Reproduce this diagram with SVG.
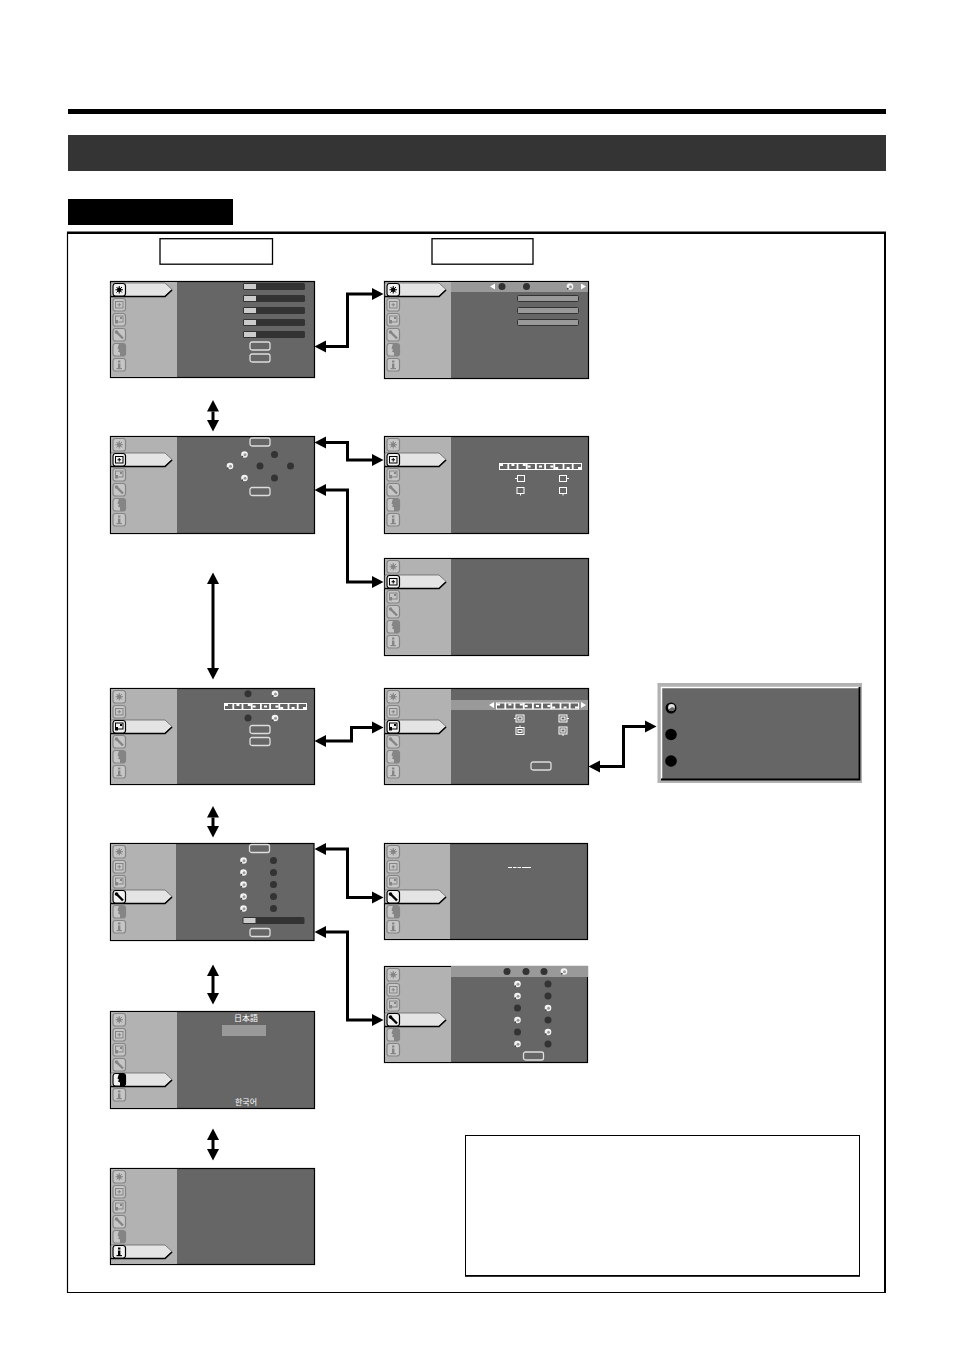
<svg xmlns="http://www.w3.org/2000/svg" width="954" height="1350" viewBox="0 0 954 1350">
<style>
.scr{fill:#666;stroke:#000;stroke-width:1.2}
.pan{fill:#b2b2b2}
.strip{fill:#999}
.btn{fill:none;stroke:#ddd;stroke-width:1.3}
.off{color:#858585;--b:#c6c6c6}
.on{color:#000;--b:#f2f2f2}
.box{fill:var(--b);stroke:currentColor;stroke-width:1.200}
.g{fill:currentColor}
.gl{fill:none;stroke:currentColor;stroke-width:1}
.tab{fill:#e4e4e4;stroke:#666;stroke-width:.8}
.tabb{fill:none;stroke:#000;stroke-width:1.6}
.conn{fill:none;stroke:#000;stroke-width:3;marker-start:url(#ah);marker-end:url(#ah)}
.sl0{fill:#333}
.sl1{fill:#ccc}
.bar{fill:#999;stroke:#333;stroke-width:1}
.w{fill:#fff}
.ol{fill:none;stroke:#fff;stroke-width:1}
.cell{fill:#666}
.cjk{fill:#fff;font-size:8px;text-anchor:middle}
</style>
<defs>
<marker id="ah" markerUnits="userSpaceOnUse" markerWidth="13" markerHeight="14" refX="0" refY="7" orient="auto-start-reverse" viewBox="0 0 13 14"><path d="M0,1 L11.500,7 L0,13 z" fill="#000"/></marker>
<g id="i0"><rect class="box" x="-6" y="-6" width="12.500" height="12.500" rx="2.500"/><circle class="g" cx=".25" cy=".25" r="2.200"/><path class="gl" d="M-3.500,.25H4M.25,-3.500V4M-2.500,-2.500L3,3M-2.500,3L3,-2.500"/></g>
<g id="i1"><rect class="box" x="-6" y="-6" width="12.500" height="12.500" rx="2.500"/><rect class="gl" x="-3.500" y="-3" width="7.500" height="6.500"/><path class="gl" d="M.25,-1.500V2M-1.500,.25H2"/></g>
<g id="i2"><rect class="box" x="-6" y="-6" width="12.500" height="12.500" rx="2.500"/><rect class="gl" x="-3.500" y="-3.500" width="7.500" height="6"/><path class="g" d="M-4,.5h3v3.500h-3zM1,-2.500h2v2h-2z"/></g>
<g id="i3"><rect class="box" x="-6" y="-6" width="12.500" height="12.500" rx="2.500"/><path d="M-3,-3L4,4" fill="none" stroke="currentColor" stroke-width="2.400"/><circle class="g" cx="-2.500" cy="-2.500" r="1.800"/></g>
<g id="i4"><rect class="box" x="-6" y="-6" width="12.500" height="12.500" rx="2.500"/><path class="g" d="M0,-6H5L6.500,-4V5L5,6.500H1V3L-1,2L0,0L-1.500,-1z"/></g>
<g id="i5"><rect class="box" x="-6" y="-6" width="12.500" height="12.500" rx="2.500"/><rect class="g" x="-1" y="-4" width="2.400" height="2"/><rect class="g" x="-1" y="-1" width="2.400" height="4.500"/><rect class="g" x="-2.500" y="3.500" width="5.400" height="1.200"/></g>
<g id="t"><path class="tab" d="M1,-6.500H55L62,0L55,7H1z"/><path class="tabb" d="M1,7H55L62,0.500"/></g>
<g id="m0"><use href="#t" y="8.500"/><use href="#i0" class="on" x="9" y="8.500"/><use href="#i1" class="off" x="9" y="23.500"/><use href="#i2" class="off" x="9" y="38.500"/><use href="#i3" class="off" x="9" y="53.500"/><use href="#i4" class="off" x="9" y="68.500"/><use href="#i5" class="off" x="9" y="83.500"/></g>
<g id="m1"><use href="#t" y="23.500"/><use href="#i0" class="off" x="9" y="8.500"/><use href="#i1" class="on" x="9" y="23.500"/><use href="#i2" class="off" x="9" y="38.500"/><use href="#i3" class="off" x="9" y="53.500"/><use href="#i4" class="off" x="9" y="68.500"/><use href="#i5" class="off" x="9" y="83.500"/></g>
<g id="m2"><use href="#t" y="38.500"/><use href="#i0" class="off" x="9" y="8.500"/><use href="#i1" class="off" x="9" y="23.500"/><use href="#i2" class="on" x="9" y="38.500"/><use href="#i3" class="off" x="9" y="53.500"/><use href="#i4" class="off" x="9" y="68.500"/><use href="#i5" class="off" x="9" y="83.500"/></g>
<g id="m3"><use href="#t" y="53.500"/><use href="#i0" class="off" x="9" y="8.500"/><use href="#i1" class="off" x="9" y="23.500"/><use href="#i2" class="off" x="9" y="38.500"/><use href="#i3" class="on" x="9" y="53.500"/><use href="#i4" class="off" x="9" y="68.500"/><use href="#i5" class="off" x="9" y="83.500"/></g>
<g id="m4"><use href="#t" y="68.500"/><use href="#i0" class="off" x="9" y="8.500"/><use href="#i1" class="off" x="9" y="23.500"/><use href="#i2" class="off" x="9" y="38.500"/><use href="#i3" class="off" x="9" y="53.500"/><use href="#i4" class="on" x="9" y="68.500"/><use href="#i5" class="off" x="9" y="83.500"/></g>
<g id="m5"><use href="#t" y="83.500"/><use href="#i0" class="off" x="9" y="8.500"/><use href="#i1" class="off" x="9" y="23.500"/><use href="#i2" class="off" x="9" y="38.500"/><use href="#i3" class="off" x="9" y="53.500"/><use href="#i4" class="off" x="9" y="68.500"/><use href="#i5" class="on" x="9" y="83.500"/></g>
<g id="r0"><circle r="3.500" fill="#333"/></g>
<g id="r1"><circle r="3.300" fill="#f4f4f4"/><circle cx=".5" cy=".2" r="1.500" fill="#999"/><circle cx="-2.200" cy="2.200" r=".9" fill="#444"/></g>
<g id="sl"><rect class="sl0" width="62" height="7" rx="1.500"/><rect class="sl1" x="1" y="1" width="12" height="5"/></g>
<g id="bt"><rect class="btn" width="20" height="8" rx="2"/></g>
<g id="st"><rect class="w" width="83" height="7"/>
<rect class="cell" x="1" y="1" width="7.400" height="5"/><rect class="w" x="1" y="1" width="3" height="2"/>
<rect class="cell" x="10.200" y="1" width="7.400" height="5"/><rect class="w" x="12.400" y="1" width="3" height="2"/>
<rect class="cell" x="19.400" y="1" width="7.400" height="5"/><rect class="w" x="23.800" y="1" width="3" height="2"/>
<rect class="cell" x="28.600" y="1" width="7.400" height="5"/><rect class="w" x="28.600" y="2.500" width="3" height="2"/>
<rect class="cell" x="37.800" y="1" width="7.400" height="5"/><rect class="w" x="40" y="2.500" width="3" height="2"/>
<rect class="cell" x="47" y="1" width="7.400" height="5"/><rect class="w" x="51.400" y="2.500" width="3" height="2"/>
<rect class="cell" x="56.200" y="1" width="7.400" height="5"/><rect class="w" x="56.200" y="4" width="3" height="2"/>
<rect class="cell" x="65.400" y="1" width="7.400" height="5"/><rect class="w" x="67.600" y="4" width="3" height="2"/>
<rect class="cell" x="74.600" y="1" width="7.400" height="5"/><rect class="w" x="79" y="4" width="3" height="2"/></g>
<g id="bl"><rect class="ol" x="-3" y="-3" width="7" height="6"/><path class="ol" d="M-3,0H-5.500"/></g>
<g id="br"><rect class="ol" x="-4" y="-3" width="7" height="6"/><path class="ol" d="M3,0H5.500"/></g>
<g id="bd"><rect class="ol" x="-3.500" y="-3" width="7" height="6"/><path class="ol" d="M0,3V5"/></g>
<g id="dl"><rect class="ol" x="-4" y="-3.500" width="8" height="7"/><rect class="ol" x="-2" y="-1.500" width="4" height="3"/><path class="ol" d="M-4,0H-6"/></g>
<g id="dr"><rect class="ol" x="-4" y="-3.500" width="8" height="7"/><rect class="ol" x="-2" y="-1.500" width="4" height="3"/><path class="ol" d="M4,0H6"/></g>
<g id="du"><rect class="ol" x="-4" y="-3" width="8" height="7"/><rect class="ol" x="-2" y="-1" width="4" height="3"/><path class="ol" d="M0,-3V-5"/></g>
<g id="dd"><rect class="ol" x="-4" y="-3.500" width="8" height="7"/><rect class="ol" x="-2" y="-1.500" width="4" height="3"/><path class="ol" d="M0,3.500V5.500"/></g>
</defs>
<rect width="954" height="1350" fill="#fff"/>
<g id="page">
<rect x="68" y="109" width="818" height="5" fill="#000"/>
<rect x="68" y="135" width="818" height="36" fill="#343434"/>
<rect x="68" y="199" width="165" height="26" fill="#000"/>
<path d="M67.500,1292.500V233H885V1292.500Z" fill="none" stroke="#000" stroke-width="1.200"/>
<rect x="67" y="231.500" width="819" height="2.500" fill="#000"/>
<rect x="884" y="232" width="2" height="1061" fill="#000"/>
</g>
<g id="h1"><rect x="160" y="238.700" width="112.500" height="25.500" fill="#fff" stroke="#000" stroke-width="1.300"/></g>
<g id="h2"><rect x="432" y="238.700" width="101" height="25.500" fill="#fff" stroke="#000" stroke-width="1.300"/></g>

<g id="s1" transform="translate(110,281)"><rect class="scr" x=".5" y=".5" width="204" height="96"/><rect class="pan" x="1" y="1" width="66" height="95"/><use href="#m0"/>
<use href="#sl" x="133" y="2"/><use href="#sl" x="133" y="14"/><use href="#sl" x="133" y="26"/><use href="#sl" x="133" y="38"/><use href="#sl" x="133" y="50"/><use href="#bt" x="140" y="61"/><use href="#bt" x="140" y="73"/></g>

<g id="s2" transform="translate(110,436)"><rect class="scr" x=".5" y=".5" width="204" height="97"/><rect class="pan" x="1" y="1" width="66" height="96"/><use href="#m1"/>
<use href="#bt" x="140" y="2"/><use href="#r1" x="134.500" y="18.500"/><use href="#r0" x="164.500" y="18.500"/><use href="#r1" x="120" y="30"/><use href="#r0" x="150" y="30"/><use href="#r0" x="180.500" y="30"/><use href="#r1" x="134.500" y="42"/><use href="#r0" x="164.500" y="42"/><use href="#bt" x="140" y="51.500"/></g>

<g id="s3" transform="translate(110,688)"><rect class="scr" x=".5" y=".5" width="204" height="96"/><rect class="pan" x="1" y="1" width="66" height="95"/><use href="#m2"/>
<use href="#r0" x="138" y="5.700"/><use href="#r1" x="165" y="5.700"/><use href="#st" x="114" y="15"/><use href="#r0" x="138" y="30"/><use href="#r1" x="165" y="30"/><use href="#bt" x="140" y="37.500"/><use href="#bt" x="140" y="49.500"/></g>

<g id="s4" transform="translate(110,843)"><rect class="scr" x=".5" y=".5" width="203.500" height="97"/><rect class="pan" x="1" y="1" width="65" height="96"/><use href="#m3"/>
<use href="#bt" x="139.500" y="1.500"/><use href="#r1" x="133.500" y="17.500"/><use href="#r0" x="163.500" y="17.500"/><use href="#r1" x="133.500" y="29.500"/><use href="#r0" x="163.500" y="29.500"/><use href="#r1" x="133.500" y="41.500"/><use href="#r0" x="163.500" y="41.500"/><use href="#r1" x="133.500" y="53.500"/><use href="#r0" x="163.500" y="53.500"/><use href="#r1" x="133.500" y="65.500"/><use href="#r0" x="163.500" y="65.500"/><use href="#sl" x="132.500" y="74"/><use href="#bt" x="140" y="85.500"/></g>

<g id="s5" transform="translate(110,1011)"><rect class="scr" x=".5" y=".5" width="204" height="97"/><rect class="pan" x="1" y="1" width="66" height="96"/><use href="#m4"/>
<rect class="strip" x="112" y="14" width="44" height="11"/><text class="cjk" x="136" y="10" font-family="'Noto Sans CJK JP',sans-serif">日本語</text><text class="cjk" x="136" y="94" font-family="'Noto Sans CJK KR',sans-serif">한국어</text></g>

<g id="s6" transform="translate(110,1168)"><rect class="scr" x=".5" y=".5" width="204" height="96"/><rect class="pan" x="1" y="1" width="66" height="95"/><use href="#m5"/></g>

<g id="r1n" transform="translate(384,281)"><rect class="scr" x=".5" y=".5" width="204" height="97"/><rect class="pan" x="1" y="1" width="66" height="96"/><use href="#m0"/>
<rect class="strip" x="67" y="1" width="137" height="10"/><path class="w" d="M111,2.500V8.500L106,5.500z"/><use href="#r0" x="118" y="5.500"/><use href="#r0" x="142.500" y="5.500"/><use href="#r1" x="186" y="5.500"/><path class="w" d="M197,2.500V8.500L202,5.500z"/>
<rect class="bar" x="133.500" y="14.500" width="61" height="6" rx="1"/><rect class="bar" x="133.500" y="26.500" width="61" height="6" rx="1"/><rect class="bar" x="133.500" y="38.500" width="61" height="6" rx="1"/></g>

<g id="r2n" transform="translate(384,436)"><rect class="scr" x=".5" y=".5" width="204" height="97"/><rect class="pan" x="1" y="1" width="66" height="96"/><use href="#m1"/>
<use href="#st" x="115" y="27"/><use href="#bl" x="136.500" y="42.500"/><use href="#br" x="179.500" y="42.500"/><use href="#bd" x="136.500" y="54.500"/><use href="#bd" x="179" y="54.500"/></g>

<g id="r3n" transform="translate(384,558)"><rect class="scr" x=".5" y=".5" width="204" height="97"/><rect class="pan" x="1" y="1" width="66" height="96"/><use href="#m1"/></g>

<g id="r4n" transform="translate(384,688)"><rect class="scr" x=".5" y=".5" width="204" height="96"/><rect class="pan" x="1" y="1" width="66" height="95"/><use href="#m2"/>
<rect class="strip" x="67" y="12" width="137" height="10"/><path class="w" d="M110,14V20L105,17z"/><use href="#st" x="112" y="14.500"/><path class="w" d="M197,14V20L202,17z"/><use href="#dl" x="136" y="30.500"/><use href="#dr" x="179" y="30.500"/><use href="#du" x="136" y="42.500"/><use href="#dd" x="179" y="42.500"/><use href="#bt" x="147" y="74"/></g>

<g id="r5n" transform="translate(384,843)"><rect class="scr" x=".5" y=".5" width="203" height="96"/><rect class="pan" x="1" y="1" width="65" height="95"/><use href="#m3"/>
<path d="M124,24.500H128M129,24.500H132.500M133.500,24.500H137M138,24.500H147" fill="none" stroke="#fff" stroke-width="1"/></g>

<g id="r6n" transform="translate(384,966)"><rect class="scr" x=".5" y=".5" width="203" height="96"/><rect class="pan" x="1" y="1" width="66" height="95"/><use href="#m3"/>
<rect class="strip" x="67" y="0" width="137" height="11"/><use href="#r0" x="123" y="5.500"/><use href="#r0" x="142" y="5.500"/><use href="#r0" x="160" y="5.500"/><use href="#r1" x="180" y="5.500"/>
<use href="#r1" x="133.500" y="18"/><use href="#r0" x="164" y="18"/><use href="#r1" x="133.500" y="30"/><use href="#r0" x="164" y="30"/><use href="#r0" x="133.500" y="42"/><use href="#r1" x="164" y="42"/><use href="#r1" x="133.500" y="54"/><use href="#r0" x="164" y="54"/><use href="#r0" x="133.500" y="66"/><use href="#r1" x="164" y="66"/><use href="#r1" x="133.500" y="78"/><use href="#r0" x="164" y="78"/><use href="#bt" x="139.500" y="86"/></g>

<g id="popup">
<rect x="657.500" y="683" width="204.500" height="100" fill="#b2b2b2"/>
<rect x="661" y="687" width="198" height="93" fill="#666"/>
<path d="M661.500,780V687.500H859" fill="none" stroke="#fff" stroke-width="1.500"/>
<path d="M661,779.500H859.500V687" fill="none" stroke="#000" stroke-width="1.800"/>
<circle cx="671" cy="708" r="5.500" fill="#000"/><circle cx="671.500" cy="707.500" r="3.400" fill="#e0e0e0"/><path d="M668.500,709.500A3.400,3.400 0 0 0 674.800,708L672,707z" fill="#666"/>
<circle cx="671" cy="734.500" r="5.800" fill="#000"/>
<circle cx="671" cy="761" r="5.800" fill="#000"/>
</g>

<g id="note"><rect x="465.500" y="1135.500" width="394" height="140" fill="#fff" stroke="#000" stroke-width="1"/><rect x="465" y="1275" width="395" height="1.800" fill="#000"/></g>

<g id="connectors">
<path class="conn" d="M326,346.500H347.500V294H372"/>
<path class="conn" d="M326,442.500H347.500V460H372"/>
<path class="conn" d="M326,490H347.500V582H372"/>
<path class="conn" d="M326,741H351.500V727.500H372"/>
<path class="conn" d="M600,766.500H623.500V726.500H645"/>
<path class="conn" d="M326,849H347.500V897.500H372"/>
<path class="conn" d="M326,932H347.500V1020H372"/>
<path class="conn" d="M213,411.500V420"/>
<path class="conn" d="M213,584V668"/>
<path class="conn" d="M213,817.500V826"/>
<path class="conn" d="M213,976V993"/>
<path class="conn" d="M213,1140V1149"/>
</g>
</svg>
